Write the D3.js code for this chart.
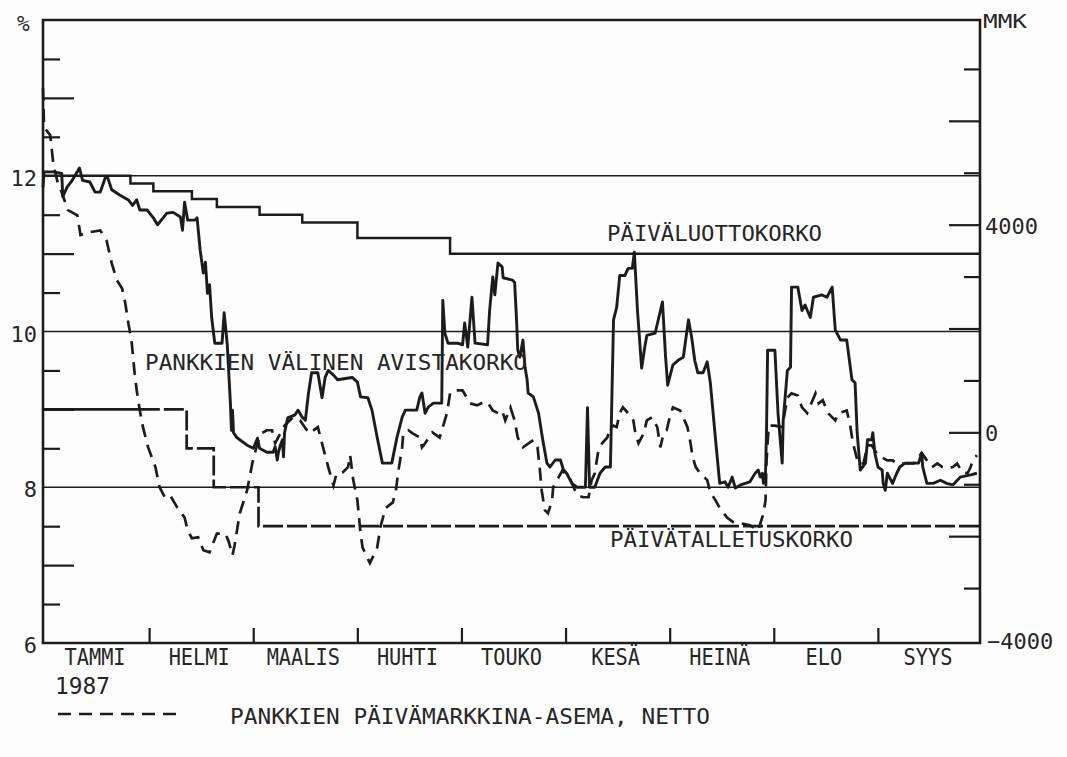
<!DOCTYPE html>
<html><head><meta charset="utf-8">
<script src="https://cdn.jsdelivr.net/npm/d3@7/dist/d3.min.js"></script>
<style>html,body{margin:0;padding:0;background:#fdfdfd;} svg{display:block;}</style>
</head><body>
<svg id="c" width="1067" height="757"></svg>
<script>
// ---- DATA (time = months from 1 Jan 1987) ----
const monthLabels = ["TAMMI","HELMI","MAALIS","HUHTI","TOUKO","KESÄ","HEINÄ","ELO","SYYS"];
const yearLabel = "1987";
const leftLabels = [6, 8, 10, 12];
const gridLevels = [8, 10, 12];
const rightLabels = [-4000, 0, 4000];

// Päiväluottokorko (%), step changes
const creditRate = [[0,12.0],[0.84,11.9],[1.06,11.8],[1.43,11.7],[1.67,11.6],[2.08,11.5],[2.49,11.4],[3.02,11.2],[3.91,11.0],[9,11.0]];
// Päivätalletuskorko (%), step changes
const depositRate = [[0,9.0],[0.93,9.0],[1.38,8.5],[1.64,8.0],[2.07,7.5],[9,7.5]];
const depositSolidUntil = 0.93;

// Pankkien välinen avistakorko (%)
const interbankRate = [
[0.00,11.85],[0.01,12.05],[0.10,12.05],[0.18,12.03],[0.19,11.73],[0.23,11.85],[0.28,11.94],[0.35,12.10],[0.38,11.94],[0.45,11.92],
[0.50,11.79],[0.55,11.79],[0.60,11.98],[0.62,11.98],[0.66,11.82],[0.74,11.75],[0.82,11.69],[0.86,11.62],[0.90,11.69],[0.93,11.56],
[1.00,11.56],[1.06,11.46],[1.10,11.37],[1.19,11.52],[1.25,11.53],[1.32,11.47],[1.34,11.30],[1.36,11.66],[1.39,11.43],[1.46,11.43],
[1.48,11.46],[1.51,11.04],[1.54,10.75],[1.56,10.89],[1.58,10.49],[1.60,10.60],[1.62,10.18],[1.65,9.85],[1.72,9.85],[1.74,10.24],
[1.77,9.83],[1.80,9.08],[1.81,8.73],[1.82,8.99],[1.83,8.70],[1.86,8.64],[1.89,8.61],[1.96,8.54],[2.02,8.50],[2.06,8.63],
[2.08,8.50],[2.15,8.45],[2.21,8.45],[2.23,8.52],[2.25,8.35],[2.26,8.44],[2.28,8.54],[2.30,8.61],[2.31,8.39],[2.32,8.70],
[2.35,8.89],[2.42,8.93],[2.45,8.99],[2.49,8.90],[2.52,8.86],[2.55,9.21],[2.58,9.47],[2.64,9.47],[2.68,9.15],[2.71,9.41],
[2.74,9.50],[2.79,9.44],[2.83,9.38],[2.92,9.40],[2.97,9.41],[3.02,9.35],[3.05,9.16],[3.12,9.15],[3.16,8.99],[3.21,8.64],
[3.26,8.31],[3.35,8.31],[3.40,8.64],[3.45,8.90],[3.48,8.99],[3.59,8.99],[3.62,9.16],[3.64,9.21],[3.67,8.95],[3.70,9.03],
[3.75,9.08],[3.83,9.08],[3.84,10.40],[3.86,9.98],[3.89,9.85],[3.98,9.85],[4.03,9.83],[4.05,10.11],[4.08,9.80],[4.12,10.44],
[4.15,9.85],[4.27,9.83],[4.29,10.27],[4.32,10.70],[4.34,10.47],[4.37,10.88],[4.41,10.83],[4.42,10.69],[4.51,10.66],[4.53,10.63],
[4.55,10.11],[4.56,9.76],[4.58,9.67],[4.61,9.89],[4.63,9.54],[4.65,9.38],[4.66,9.21],[4.71,9.16],[4.76,8.95],[4.80,8.61],
[4.84,8.31],[4.87,8.26],[4.92,8.35],[4.97,8.35],[5.00,8.22],[5.03,8.18],[5.08,8.05],[5.13,8.00],[5.21,8.00],[5.23,9.02],
[5.25,8.00],[5.30,8.00],[5.35,8.18],[5.40,8.26],[5.45,8.26],[5.48,10.15],[5.51,10.31],[5.54,10.72],[5.59,10.72],[5.62,10.81],
[5.66,10.81],[5.68,11.02],[5.71,10.27],[5.75,9.53],[5.78,9.80],[5.80,9.95],[5.88,9.98],[5.95,10.38],[5.98,9.67],[6.00,9.31],
[6.05,9.57],[6.10,9.63],[6.15,9.67],[6.20,10.15],[6.23,9.93],[6.26,9.63],[6.29,9.47],[6.34,9.47],[6.38,9.61],[6.41,9.34],
[6.46,8.61],[6.50,8.05],[6.55,8.07],[6.58,8.00],[6.62,8.13],[6.65,7.99],[6.70,8.03],[6.79,8.07],[6.84,8.18],[6.87,8.22],
[6.89,8.13],[6.91,8.18],[6.92,8.05],[6.94,8.18],[6.95,8.77],[6.96,9.76],[7.03,9.76],[7.06,8.95],[7.10,8.31],[7.11,8.86],
[7.15,9.50],[7.18,9.54],[7.19,10.57],[7.25,10.57],[7.29,10.27],[7.32,10.34],[7.37,10.18],[7.40,10.44],[7.48,10.47],[7.53,10.44],
[7.58,10.57],[7.61,10.02],[7.66,9.89],[7.72,9.89],[7.77,9.38],[7.80,9.34],[7.82,8.70],[7.85,8.22],[7.90,8.31],[7.92,8.61],
[7.96,8.61],[7.97,8.70],[7.99,8.44],[8.02,8.26],[8.06,8.22],[8.07,8.05],[8.09,7.96],[8.11,8.18],[8.16,8.05],[8.20,8.18],
[8.23,8.26],[8.28,8.31],[8.41,8.31],[8.44,8.44],[8.45,8.26],[8.49,8.05],[8.55,8.05],[8.62,8.09],[8.68,8.05],[8.74,8.03],
[8.81,8.13],[8.91,8.16],[8.97,8.18]
];

// Pankkien päivämarkkina-asema, netto (MMK)
const netPosition = [
[0.00,6630],[0.01,5880],[0.07,5720],[0.10,5150],[0.14,4820],[0.18,4620],[0.24,4280],[0.33,4180],[0.36,3800],[0.43,3850],
[0.55,3890],[0.61,3700],[0.66,3260],[0.71,2930],[0.76,2770],[0.79,2490],[0.82,2100],[0.85,1770],[0.88,1140],[0.90,810],
[0.93,420],[0.96,100],[1.01,-290],[1.08,-670],[1.12,-1060],[1.17,-1250],[1.22,-1210],[1.29,-1450],[1.36,-1640],[1.39,-1890],
[1.43,-2040],[1.49,-2020],[1.54,-2270],[1.60,-2310],[1.67,-1950],[1.75,-1950],[1.78,-2080],[1.82,-2370],[1.84,-2180],[1.89,-1560],
[1.96,-1120],[2.01,-600],[2.06,-210],[2.10,-20],[2.15,40],[2.20,40],[2.23,-210],[2.32,130],[2.40,290],[2.47,230],
[2.52,80],[2.56,-20],[2.64,100],[2.69,-290],[2.74,-670],[2.79,-1020],[2.82,-790],[2.88,-770],[2.93,-670],[2.95,-440],
[2.98,-920],[3.02,-1310],[3.05,-1950],[3.07,-2220],[3.14,-2520],[3.21,-2220],[3.24,-1830],[3.29,-1460],[3.36,-1350],[3.39,-1120],
[3.41,-790],[3.45,-290],[3.46,-20],[3.51,40],[3.55,-20],[3.62,-100],[3.64,-290],[3.67,-210],[3.74,0],[3.81,-100],
[3.84,100],[3.88,370],[3.91,750],[3.94,810],[4.03,810],[4.07,670],[4.10,560],[4.17,520],[4.23,580],[4.27,580],
[4.32,420],[4.37,370],[4.41,420],[4.44,230],[4.49,480],[4.53,230],[4.56,-100],[4.61,-290],[4.71,-150],[4.75,-290],
[4.77,-670],[4.79,-1120],[4.82,-1500],[4.85,-1560],[4.89,-1310],[4.90,-1060],[4.99,-730],[5.01,-790],[5.06,-890],[5.13,-1210],
[5.19,-1250],[5.24,-1250],[5.27,-920],[5.30,-790],[5.33,-400],[5.37,-210],[5.42,-100],[5.45,80],[5.48,130],[5.51,100],
[5.54,370],[5.57,480],[5.62,370],[5.67,230],[5.69,-20],[5.72,-210],[5.77,-20],[5.80,230],[5.85,290],[5.90,100],
[5.93,-290],[5.96,-20],[5.99,40],[6.02,290],[6.05,480],[6.12,420],[6.15,290],[6.19,100],[6.22,-210],[6.24,-480],
[6.27,-670],[6.31,-790],[6.38,-920],[6.41,-1160],[6.46,-1310],[6.50,-1460],[6.57,-1640],[6.63,-1730],[6.70,-1750],[6.79,-1790],
[6.87,-1890],[6.92,-1560],[6.94,-1310],[6.95,-540],[6.97,130],[7.03,130],[7.10,100],[7.15,670],[7.19,750],[7.25,710],
[7.29,480],[7.34,370],[7.42,750],[7.45,560],[7.49,620],[7.54,370],[7.61,230],[7.64,370],[7.72,420],[7.75,170],
[7.78,-210],[7.83,-600],[7.88,-600],[7.92,-250],[7.96,-250],[8.02,-440],[8.11,-540],[8.16,-540],[8.20,-600],[8.30,-600],
[8.36,-600],[8.44,-400],[8.49,-540],[8.54,-670],[8.59,-600],[8.64,-670],[8.69,-690],[8.74,-670],[8.78,-600],[8.83,-770],
[8.88,-790],[8.91,-670],[8.93,-540],[8.97,-440]
];

const seriesLabels = {
  credit: "PÄIVÄLUOTTOKORKO",
  interbank: "PANKKIEN VÄLINEN AVISTAKORKO",
  deposit: "PÄIVÄTALLETUSKORKO",
  net: "PANKKIEN PÄIVÄMARKKINA-ASEMA, NETTO"
};

// ---- LAYOUT ----
const L = 43, R = 980, T = 20, B = 643;
const ink = "#1c1c1c", txt = "#262626";
const font = "'DejaVu Sans Mono', monospace";

const svg = d3.select("#c");
svg.append("rect").attr("width",1067).attr("height",757).attr("fill","#fdfdfd");

const x = d3.scaleLinear().domain([0,9]).range([L,R]);
const yL = d3.scaleLinear().domain([6,14]).range([B,T]);
const yR = d3.scaleLinear().domain([-4000,8000]).range([B-3,T-3]);

// grid lines
svg.append("g").selectAll("line").data(gridLevels).join("line")
  .attr("x1",L).attr("x2",R).attr("y1",d=>yL(d)).attr("y2",d=>yL(d))
  .attr("stroke",ink).attr("stroke-width",1.6);

function tickAxis(axisGen, tx, ty, vals, size){
  const g = svg.append("g").attr("transform",`translate(${tx},${ty})`)
    .call(axisGen.tickValues(vals).tickSize(size).tickFormat(""));
  g.select(".domain").remove();
  g.selectAll(".tick line").attr("stroke",ink).attr("stroke-width",2.2);
  return g;
}
const leftLong = [7,9,11,13];
const leftShort = [6.5,7.5,8.5,9.5,10.5,11.5,12.5,13.5];
tickAxis(d3.axisRight(yL), L, 0, leftLong, 31);
tickAxis(d3.axisRight(yL), L, 0, leftShort, 17);
const rightLong = [-2000,0,2000,4000,6000];
const rightShort = [-3000,-1000,1000,3000,5000,7000];
tickAxis(d3.axisLeft(yR), R, 0, rightLong, 31);
tickAxis(d3.axisLeft(yR), R, 0, rightShort, 16);
tickAxis(d3.axisTop(x), 2, B, d3.range(1,9), 15);

// frame
svg.append("path")
  .attr("d",`M${L},${T}V${B}H${R}V${T}Z`)
  .attr("fill","none").attr("stroke",ink).attr("stroke-width",2.6);

// lines
const lineL = d3.line().x(d=>x(d[0])).y(d=>yL(d[1]));
const stepL = d3.line().x(d=>x(d[0])).y(d=>yL(d[1])).curve(d3.curveStepAfter);
const lineR = d3.line().x(d=>x(d[0])).y(d=>yR(d[1]));

svg.append("path").datum(creditRate).attr("d",stepL)
  .attr("fill","none").attr("stroke",ink).attr("stroke-width",2.5);

const depSolid = depositRate.filter(d=>d[0]<=depositSolidUntil);
const depDash = depositRate.filter(d=>d[0]>=depositSolidUntil);
svg.append("path").datum(depSolid).attr("d",stepL)
  .attr("fill","none").attr("stroke",ink).attr("stroke-width",2.7);
svg.append("path").datum(depDash).attr("d",stepL)
  .attr("fill","none").attr("stroke",ink).attr("stroke-width",2.7)
  .attr("stroke-dasharray","20,4");

svg.append("path").datum(interbankRate).attr("d",lineL)
  .attr("fill","none").attr("stroke",ink).attr("stroke-width",2.9)
  .attr("stroke-linejoin","round");

svg.append("path").datum(netPosition).attr("d",lineR)
  .attr("fill","none").attr("stroke",ink).attr("stroke-width",2.7)
  .attr("stroke-dasharray","13,8");

// ---- TEXT ----
function label(s, px, py, opts={}){
  const t = svg.append("text").text(s).attr("x",px).attr("y",py)
    .attr("font-family",font).attr("font-size",opts.size||22).attr("fill",txt)
    .attr("text-anchor",opts.anchor||"start");
  if(opts.len) t.attr("textLength",opts.len).attr("lengthAdjust","spacingAndGlyphs");
  if(opts.mid) t.attr("dominant-baseline","middle");
  return t;
}
leftLabels.forEach(v=>label(String(v), 37, yL(v)+4, {anchor:"end", mid:true, size:22}));
rightLabels.forEach(v=>label(String(v).replace("-","\u2212"), v<0?987:985, yR(v)+3, {mid:true, size:22}));
label("%", 17, 31, {size:21});
label("MMK", 983, 28, {size:19, len:44});

monthLabels.forEach((m,i)=>label(m, x(i+0.5), 665, {anchor:"middle", size:23, len:m.length*12.2}));
label(yearLabel, 55, 694, {size:23, len:55});

label(seriesLabels.credit, 607, 241, {len:215});
label(seriesLabels.interbank, 145, 370, {len:382});
label(seriesLabels.deposit, 610, 547, {len:243});

// legend
svg.append("line").attr("x1",58).attr("x2",178).attr("y1",714).attr("y2",714)
  .attr("stroke",ink).attr("stroke-width",2.7).attr("stroke-dasharray","13,8");
label(seriesLabels.net, 230, 724, {len:480});
</script>
</body></html>
